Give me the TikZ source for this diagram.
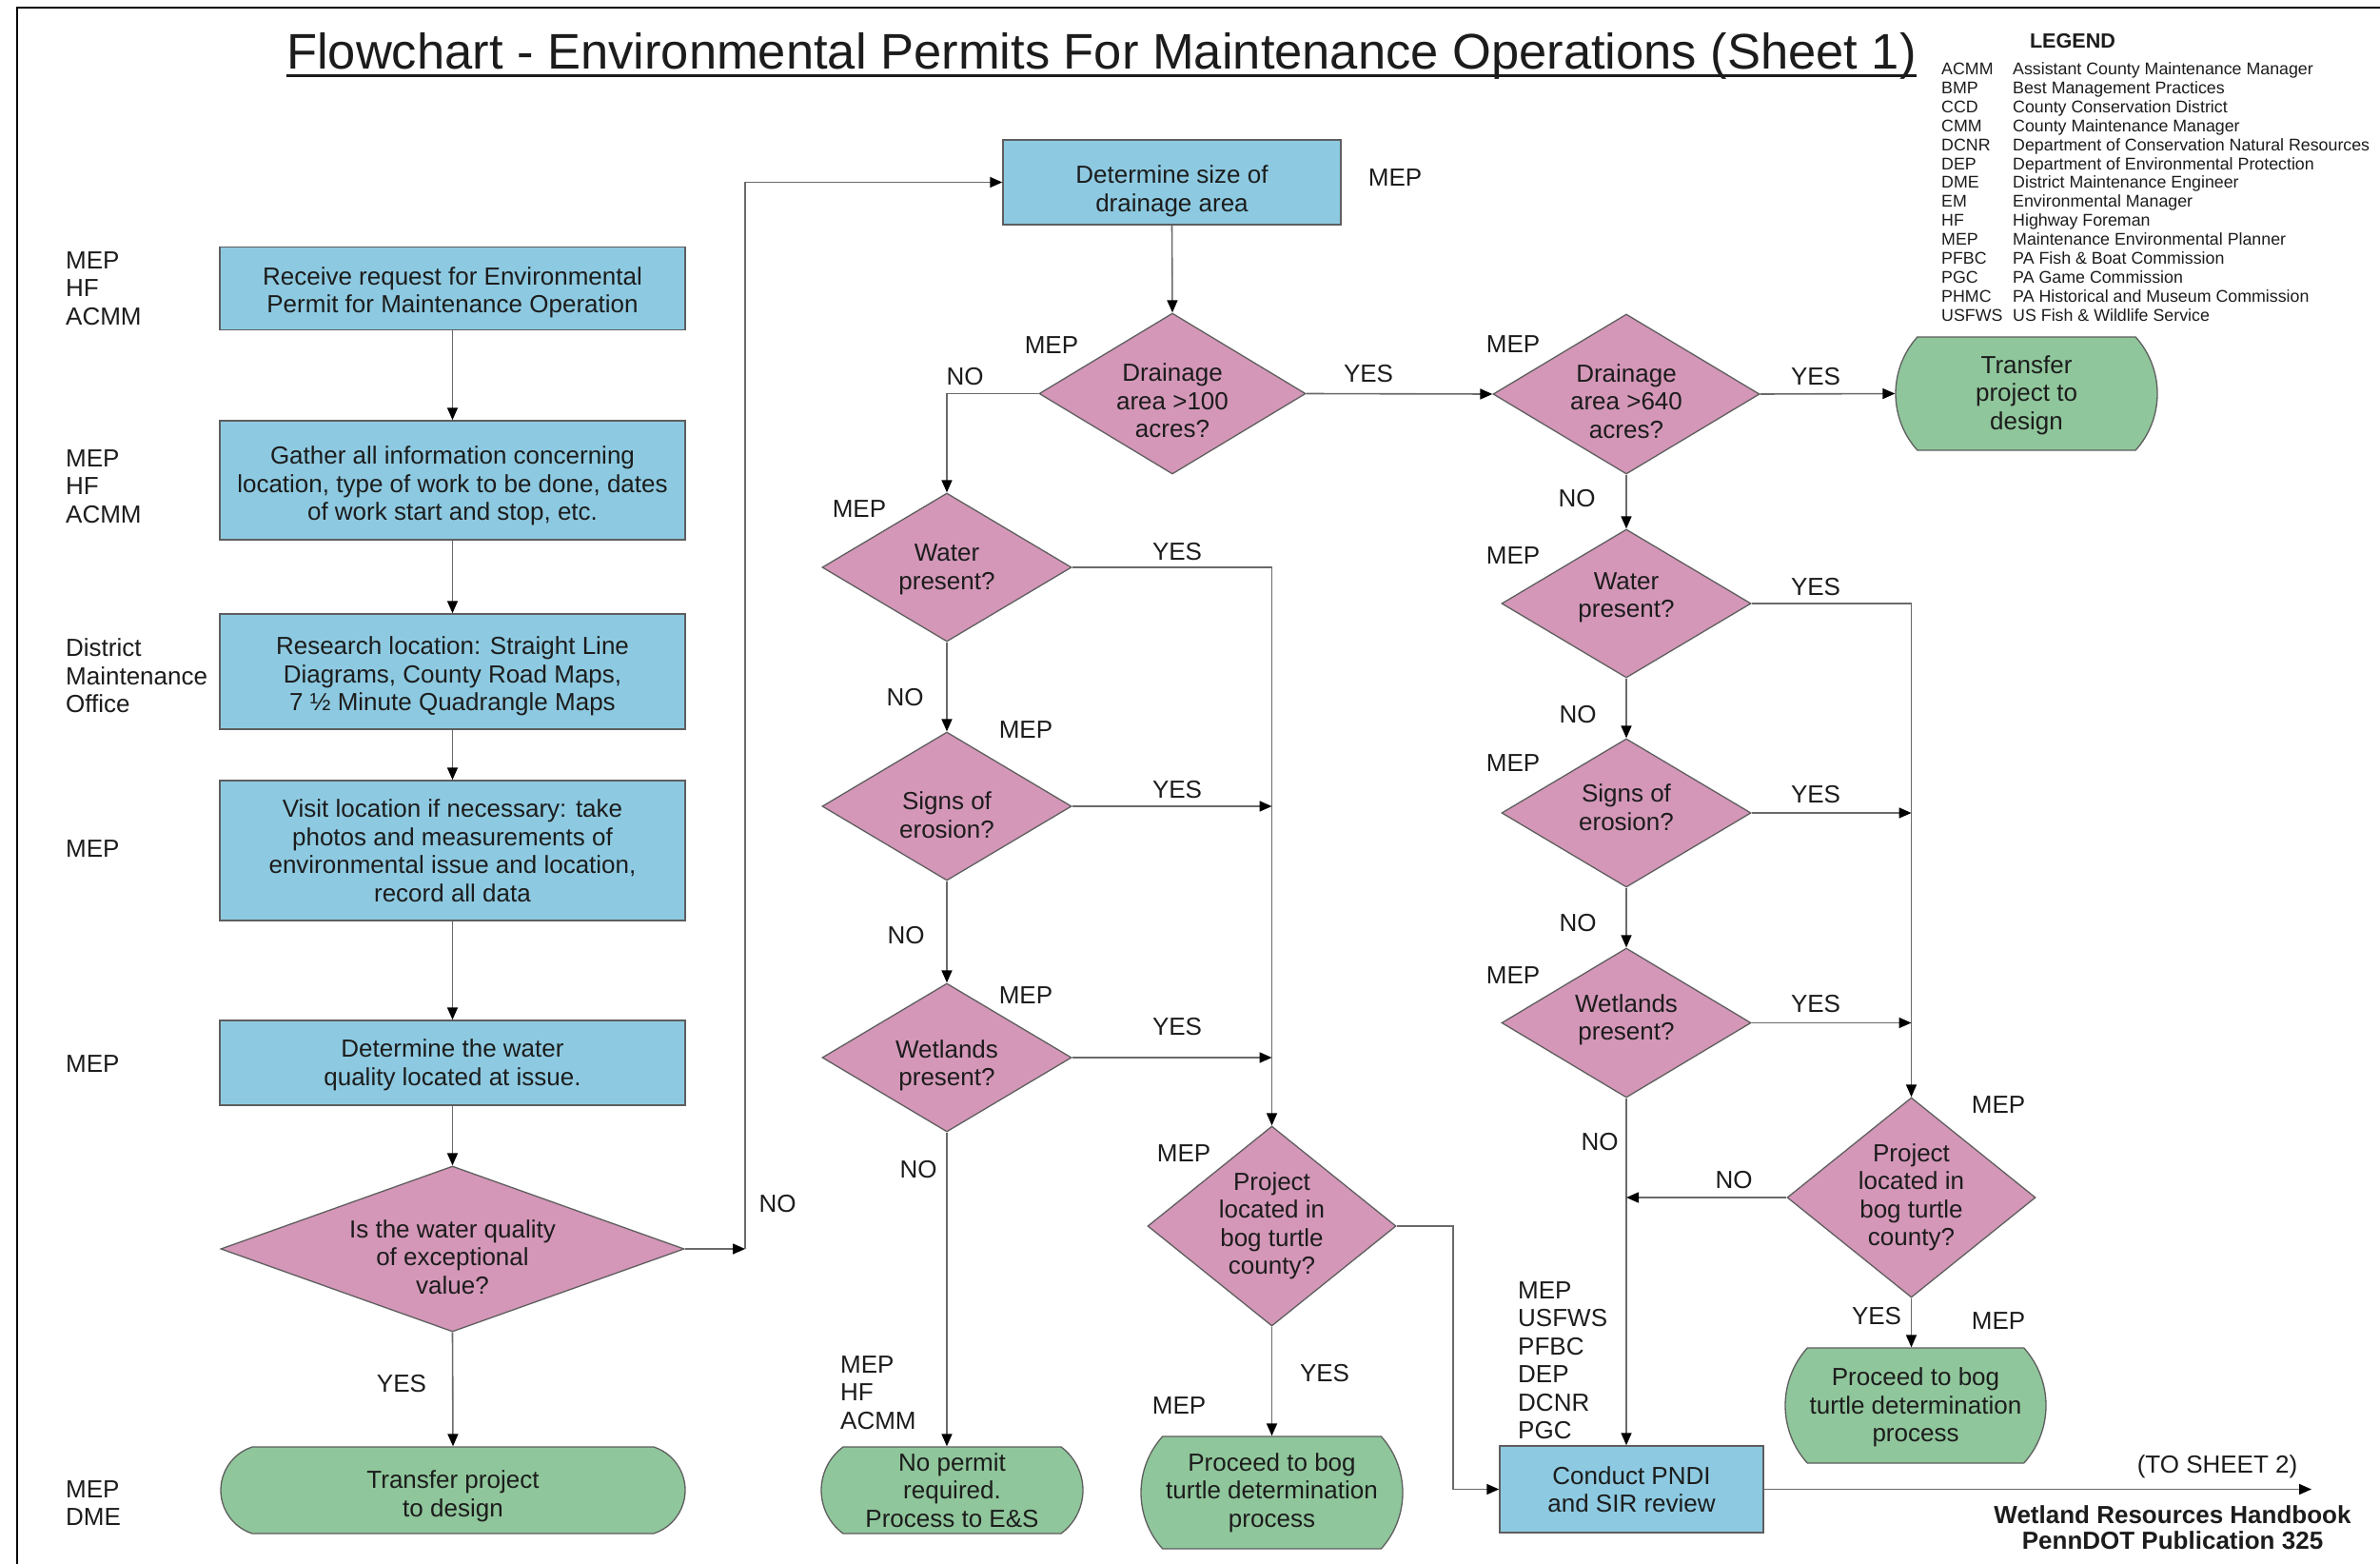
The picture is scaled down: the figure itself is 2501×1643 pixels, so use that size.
\documentclass[tikz,border=0pt]{standalone}
\usepackage{fontspec}
\setmainfont{Liberation Sans}
\usetikzlibrary{arrows.meta,shapes.geometric,shapes.misc}

\definecolor{boxblue}{HTML}{8DCAE1}
\definecolor{decpink}{HTML}{D497B8}
\definecolor{termgreen}{HTML}{8FC69B}
\definecolor{edge}{HTML}{5E5E5E}
\definecolor{wirecol}{HTML}{6A6A6A}
\definecolor{ink}{HTML}{1C1C1C}

\tikzset{
  body/.style={font=\fontsize{26}{29.5}\selectfont, text=ink, inner sep=0pt},
  lbl/.style={body},
  stack/.style={body, align=left, anchor=west},
  process/.style 2 args={body, align=center, rectangle, draw=edge, line width=1.5pt,
    fill=boxblue, minimum width=#1pt, minimum height=#2pt},
  decision/.style n args={3}{body, align=center, diamond, draw=edge, line width=1.3pt,
    fill=decpink, minimum width=#1pt, minimum height=#2pt, aspect=#3},
  terminal/.style n args={3}{body, align=center, rounded rectangle,
    rounded rectangle arc length=#3, draw=edge, line width=1.3pt,
    fill=termgreen, minimum width=#1pt, minimum height=#2pt},
  % a taller text box sets the text lower in its shape
  lower/.style={text height=#1pt, text depth=0pt},
  % a deeper text box sets the text higher in its shape
  raise/.style={text depth=#1pt},
  wire/.style={draw=wirecol, line width=1.6pt},
  flow/.style={wire, -{Triangle[length=13pt,width=11pt,color=black]}},
  legtxt/.style={font=\fontsize{17.8}{20}\selectfont, text=ink, inner sep=0pt, anchor=base west},
}

\begin{document}
\begin{tikzpicture}[x=1pt,y=-1pt]
\useasboundingbox (0,0) rectangle (2501,1643);
\fill[white] (0,0) rectangle (2501,1643);

% page frame
\draw[line width=2.5pt, black] (18,1643) -- (18,8) -- (2501,8);

% title
\node[font=\fontsize{52.5}{60}\selectfont, text=ink, inner sep=0pt, anchor=base] (title)
  at (1157.5,73) {Flowchart - Environmental Permits For Maintenance Operations (Sheet 1)};
\draw[line width=3pt, ink] ([yshift=-7pt]title.base west) -- ([yshift=-7pt]title.base east);

% legend
\node[font=\bfseries\fontsize{21.6}{24}\selectfont, text=ink, inner sep=0pt] (legend) at (2178,43) {LEGEND};
\foreach \ab/\de [count=\i from 0] in {
  ACMM/Assistant County Maintenance Manager,
  BMP/Best Management Practices,
  CCD/County Conservation District,
  CMM/County Maintenance Manager,
  DCNR/Department of Conservation Natural Resources,
  DEP/Department of Environmental Protection,
  DME/District Maintenance Engineer,
  EM/Environmental Manager,
  HF/Highway Foreman,
  MEP/Maintenance Environmental Planner,
  PFBC/PA Fish \& Boat Commission,
  PGC/PA Game Commission,
  PHMC/PA Historical and Museum Commission,
  USFWS/US Fish \& Wildlife Service}{
  \node[legtxt] (lgab\i) at (2040,{78.4+19.93*\i}) {\ab};
  \node[legtxt] (lgde\i) at (2115,{78.4+19.93*\i}) {\de};
}

% left column
\node[process={489}{87}, lower=51] (b1) at (475.5,303) {Receive request for Environmental\\Permit for Maintenance Operation};
\node[process={489}{125}, lower=84.5] (b2) at (475.5,504.5) {Gather all information concerning\\location, type of work to be done, dates\\of work start and stop, etc.};
\node[process={489}{121}, lower=82.5] (b3) at (475.5,705.5) {Research location: Straight Line\\Diagrams, County Road Maps,\\7 ½ Minute Quadrangle Maps};
\node[process={489}{147}] (b4) at (475.5,893.5) {Visit location if necessary: take\\photos and measurements of\\environmental issue and location,\\record all data};
\node[process={489}{89}, lower=47] (b5) at (475.5,1116.5) {Determine the water\\quality located at issue.};
\node[decision={487}{174}{2.8}, lower=94] (d1) at (475.5,1312) {Is the water quality\\of exceptional\\value?};
\node[terminal={488}{91}{144}, lower=55.8] (t1) at (476,1565.5) {Transfer project\\to design};

% middle column
\node[process={355}{89}, lower=61] (b6) at (1231.5,191.5) {Determine size of\\drainage area};
\node[decision={280}{169}{1.657}, lower=92] (d2) at (1232,413.5) {Drainage\\area >100\\acres?};
\node[decision={262}{156}{1.68}, lower=46] (d3) at (995,596) {Water\\present?};
\node[decision={262}{156}{1.68}, lower=66.5] (d4) at (995,847) {Signs of\\erosion?};
\node[decision={262}{156}{1.68}, lower=59] (d5) at (995,1111) {Wetlands\\present?};
\node[decision={261}{210}{1.243}] (d6) at (1336.5,1288) {Project\\located in\\bog turtle\\county?};
\node[terminal={275}{91}{107}] (t2) at (1000.5,1565.5) {No permit\\required.\\Process to E\&S};
\node[terminal={275}{118}{84}] (t3) at (1336.5,1568) {Proceed to bog\\turtle determination\\process};

% right column
\node[decision={280}{168}{1.667}, lower=92] (d7) at (1709,414) {Drainage\\area >640\\acres?};
\node[terminal={275}{119}{84}, lower=75.5] (t4) at (2129.5,413.5) {Transfer\\project to\\design};
\node[decision={262}{156}{1.68}, raise=17.5] (d8) at (1709,634) {Water\\present?};
\node[decision={262}{156}{1.68}, raise=12] (d9) at (1709,854) {Signs of\\erosion?};
\node[decision={262}{157}{1.67}, raise=11.5] (d10) at (1709,1074.5) {Wetlands\\present?};
\node[decision={261}{210}{1.243}] (d11) at (2008.5,1258) {Project\\located in\\bog turtle\\county?};
\node[terminal={274}{121}{84}, lower=76.5] (t5) at (2013,1476.5) {Proceed to bog\\turtle determination\\process};
\node[process={277}{91}] (b7) at (1714.5,1564.5) {Conduct PNDI\\and SIR review};

% junction and end points
\coordinate (c1) at (783,1312);
\coordinate (c2) at (1527,1288);
\coordinate (c3) at (2429,1564.5);

% connectors, left column
\draw[flow] (b1.south) -- (b2.north);
\draw[flow] (b2.south) -- (b3.north);
\draw[flow] (b3.south) -- (b4.north);
\draw[flow] (b4.south) -- (b5.north);
\draw[flow] (b5.south) -- (d1.north);
\draw[flow] (d1.south) -- (t1.north);
\draw[flow] (d1.east) -- (c1);
\draw[flow] (c1) |- (b6.west);

% connectors, middle column
\draw[flow] (b6.south) -- (d2.north);
\draw[flow] (d2.west) -| (d3.north);
\draw[flow] (d2.east) -- (d7.west);
\draw[flow] (d3.east) -| (d6.north);
\draw[flow] (d3.south) -- (d4.north);
\draw[flow] (d4.south) -- (d5.north);
\draw[flow] (d4.east) -- (d4.east -| d6.north);
\draw[flow] (d5.east) -- (d5.east -| d6.north);
\draw[flow] (d5.south) -- (d5.south |- t2.north);
\draw[flow] (d6.south) -- (t3.north);
\draw[flow] (d6.east) -- (c2) |- (b7.west);

% connectors, right column
\draw[flow] (d7.east) -- (t4.west);
\draw[flow] (d7.south) -- (d8.north);
\draw[flow] (d8.south) -- (d9.north);
\draw[flow] (d9.south) -- (d10.north);
\draw[flow] (d8.east) -| (d11.north);
\draw[flow] (d9.east) -- (d9.east -| d11.north);
\draw[flow] (d10.east) -- (d10.east -| d11.north);
\draw[flow] (d10.south) -- (d10.south |- b7.north);
\draw[flow] (d11.west) -- (d11.west -| d10.south);
\draw[flow] (d11.south) -- (d11.south |- t5.north);
\draw[flow] (b7.east) -- (c3);

% responsibility labels
\node[stack] (who1) at (69,303) {MEP\\HF\\ACMM};
\node[stack] (who2) at (69,511) {MEP\\HF\\ACMM};
\node[stack] (who3) at (69,710) {District\\Maintenance\\Office};
\node[stack] (who4) at (69,892) {MEP};
\node[stack] (who5) at (69,1118) {MEP};
\node[stack] (who6) at (69,1579) {MEP\\DME};
\node[stack] (who7) at (883,1463) {MEP\\HF\\ACMM};
\node[stack] (who8) at (1595,1429) {MEP\\USFWS\\PFBC\\DEP\\DCNR\\PGC};
\foreach \p [count=\k] in {(1466,187),(1105,363),(903,535),(1078,767),(1078,1046),
  (1244,1212),(1239,1477),(1590,362),(1590,584),(1590,802),(1590,1025),(2100,1161),(2100,1388)}
  \node[lbl] (mep\k) at \p {MEP};

% branch labels
\foreach \p [count=\k] in {(422,1454),(1438,393),(1237,580),(1237,830),(1237,1079),(1392,1443),
  (1908,396),(1908,617),(1908,835),(1908,1055),(1972,1383)}
  \node[lbl] (yes\k) at \p {YES};
\foreach \p [count=\k] in {(817,1265),(1014,396),(951,733),(952,983),(965,1229),
  (1657,524),(1658,751),(1658,970),(1681,1200),(1822,1240)}
  \node[lbl] (no\k) at \p {NO};

% continuation and source note
\node[lbl] (sheet) at (2330,1541) {(TO SHEET 2)};
\node[font=\bfseries\fontsize{26}{27}\selectfont, text=ink, inner sep=0pt, align=center] (pub)
  at (2283,1605) {Wetland Resources Handbook\\PennDOT Publication 325};
\end{tikzpicture}
\end{document}
